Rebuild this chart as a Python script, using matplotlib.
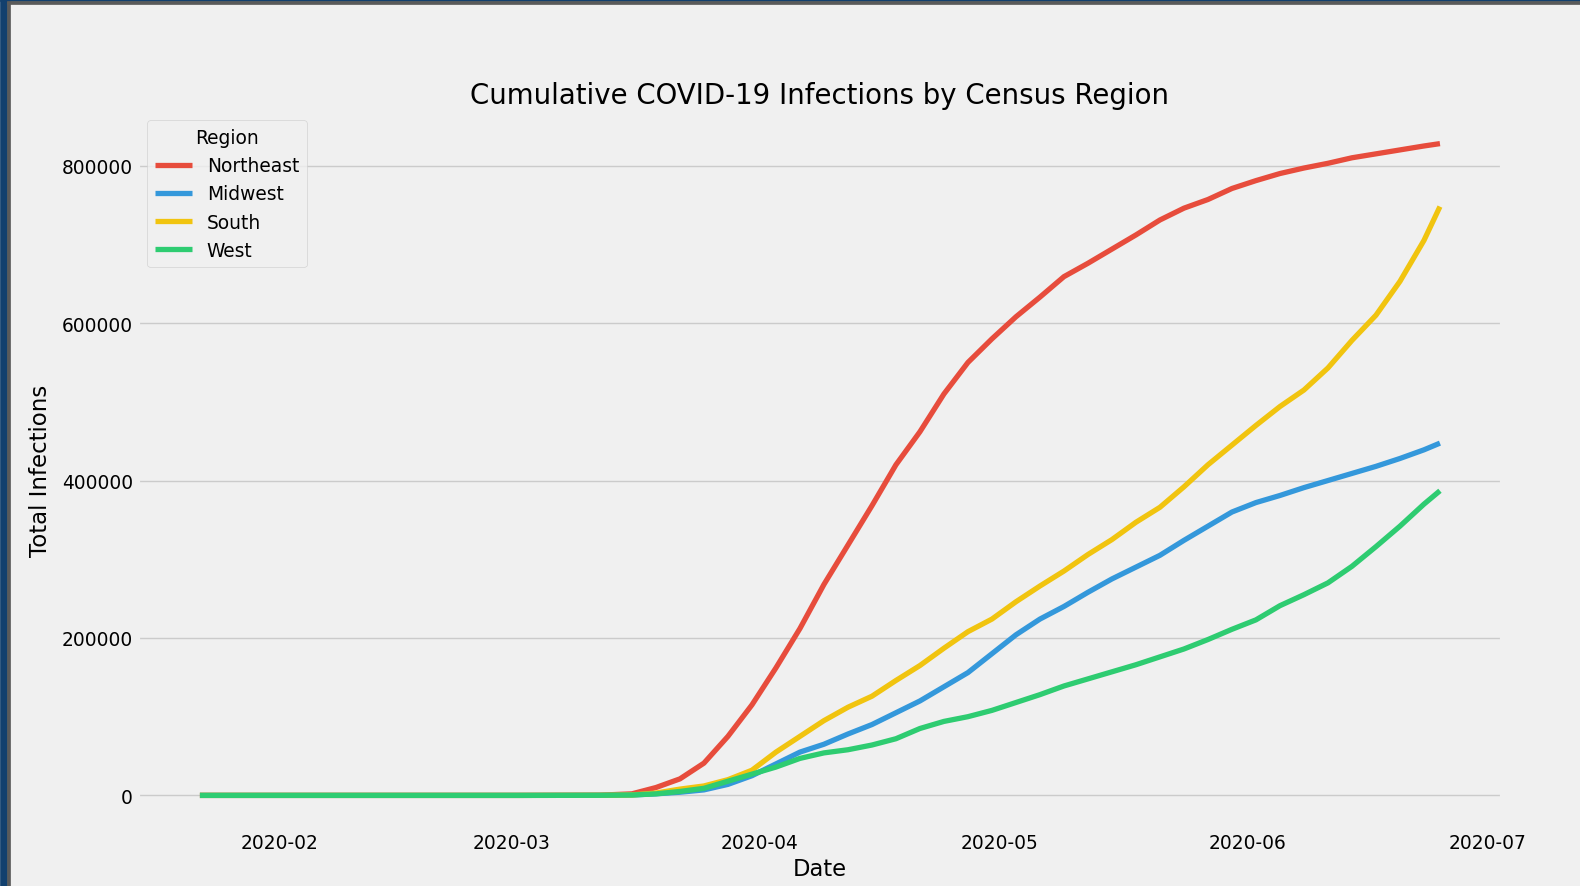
import matplotlib
matplotlib.use("Agg")
import matplotlib.pyplot as plt
import matplotlib.dates as mdates
from matplotlib.patches import Rectangle
import pandas as pd

# values
dates = ["2020-01-22", "2020-02-01", "2020-02-16", "2020-03-02", "2020-03-12",
         "2020-03-16", "2020-03-19", "2020-03-22", "2020-03-25", "2020-03-28",
         "2020-03-31", "2020-04-03", "2020-04-06", "2020-04-09", "2020-04-12",
         "2020-04-15", "2020-04-18", "2020-04-21", "2020-04-24", "2020-04-27",
         "2020-04-30", "2020-05-03", "2020-05-06", "2020-05-09", "2020-05-12",
         "2020-05-15", "2020-05-18", "2020-05-21", "2020-05-24", "2020-05-27",
         "2020-05-30", "2020-06-02", "2020-06-05", "2020-06-08", "2020-06-11",
         "2020-06-14", "2020-06-17", "2020-06-20", "2020-06-23", "2020-06-25"]

northeast = [0, 0, 0, 0, 300, 2000, 10000, 21000, 41000, 75000,
             115000, 162000, 212000, 268000, 318000, 368000, 420000, 462000, 510000, 550000,
             580000, 608000, 633000, 659000, 676000, 694000, 712000, 731000, 746000, 757000,
             771000, 781000, 790000, 797000, 803000, 810000, 815000, 820000, 825000, 828000]
midwest = [0, 0, 0, 0, 100, 500, 2000, 4000, 7000, 14000,
           25000, 40000, 55000, 65000, 78000, 90000, 105000, 120000, 138000, 156000,
           180000, 204000, 224000, 240000, 258000, 275000, 290000, 305000, 324000, 342000,
           360000, 372000, 381000, 391000, 400000, 409000, 418000, 428000, 439000, 447500]
south = [0, 0, 0, 0, 100, 600, 3000, 8000, 12000, 20000,
         32000, 55000, 75000, 95000, 112000, 126000, 146000, 165000, 187000, 208000,
         224000, 246000, 266000, 285000, 306000, 325000, 347000, 366000, 392000, 420000,
         445000, 470000, 494000, 515000, 543000, 578000, 610000, 653000, 705000, 748000]
west = [0, 0, 0, 0, 100, 500, 2000, 5000, 9000, 18000,
        27000, 36000, 47000, 54000, 58000, 64000, 72000, 85000, 94000, 100000,
        108000, 118000, 128000, 139000, 148000, 157000, 166000, 176000, 186000, 198000,
        211000, 223000, 241000, 255000, 270000, 291000, 316000, 342000, 370000, 387000]

regions = ["Northeast", "Midwest", "South", "West"]
colors = ["#e74c3c", "#3498db", "#f1c40f", "#2ecc71"]

df = pd.DataFrame({"Northeast": northeast, "Midwest": midwest,
                   "South": south, "West": west},
                  index=pd.to_datetime(dates))

plt.style.use("fivethirtyeight")
plt.rcParams["font.family"] = ["DejaVu Sans"]

fig, ax = plt.subplots(figsize=(15.8, 8.87), dpi=100)
fig.subplots_adjust(left=0.0873, right=0.9506, top=0.8737, bottom=0.0654)

for region, color in zip(regions, colors):
    ax.plot(df.index, df[region], color=color, linewidth=3.8, label=region)

ax.grid(False, axis="x")
ax.grid(True, axis="y", color="#cbcbcb", linewidth=1)
ax.xaxis.set_major_locator(mdates.MonthLocator())
ax.xaxis.set_major_formatter(mdates.DateFormatter("%Y-%m"))
ax.tick_params(labelsize=13.4)
ax.set_title("Cumulative COVID-19 Infections by Census Region", fontsize=19.9)
ax.set_xlabel("Date", fontsize=16.3)
ax.set_ylabel("Total Infections", fontsize=16.5, labelpad=7)

leg = ax.legend(title="Region", loc="upper left", fontsize=13.4, title_fontsize=13.4)

# screenshot frame along the left and top edges
fig.patches.append(Rectangle((0, 0), 7 / 1580, 1, transform=fig.transFigure,
                             color="#12406e", zorder=10))
fig.patches.append(Rectangle((7 / 1580, 0), 3 / 1580, 1, transform=fig.transFigure,
                             color="#5a5a5a", zorder=10))
fig.patches.append(Rectangle((0, 1 - 2 / 887), 1, 2 / 887, transform=fig.transFigure,
                             color="#12406e", zorder=10))
fig.patches.append(Rectangle((7 / 1580, 1 - 5 / 887), 1, 3 / 887, transform=fig.transFigure,
                             color="#5a5a5a", zorder=10))

fig.savefig("out.png", dpi=100, facecolor=fig.get_facecolor())
